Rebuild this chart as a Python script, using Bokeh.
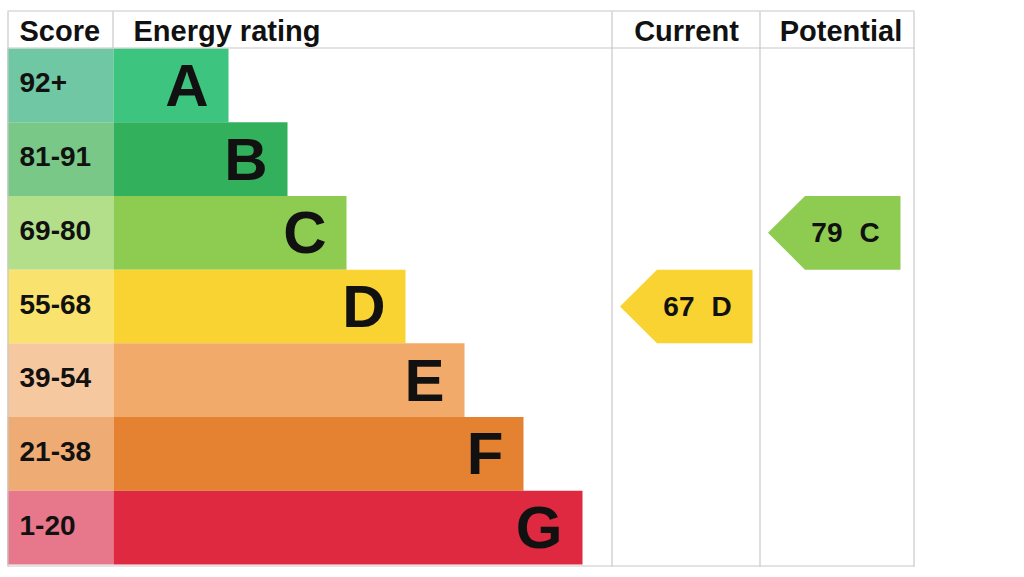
from bokeh.plotting import figure
from bokeh.models import Range1d, ColumnDataSource
from bokeh.core.properties import value
from bokeh.embed import file_html
from bokeh.resources import INLINE

# ---- data ----
bands = ["A", "B", "C", "D", "E", "F", "G"]
score_ranges = ["92+", "81-91", "69-80", "55-68", "39-54", "21-38", "1-20"]
band_min = [92, 81, 69, 55, 39, 21, 1]
bar_colors = ["#3dc47f", "#33b05c", "#8ecc51", "#f8d331", "#f2aa6b", "#e58232", "#de2940"]
score_colors = ["#70c7a3", "#79c887", "#b3df8b", "#f9e36e", "#f6c8a0", "#eeab73", "#e7778b"]
headers = ["Score", "Energy rating", "Current", "Potential"]
current_score = 67
potential_score = 79

FONT = value("Liberation Sans")
GRID = "#c8c8c8"

# ---- layout ----
W, H = 1008, 569
p = figure(width=W, height=H, output_backend="svg", toolbar_location=None,
           x_range=Range1d(0, W), y_range=Range1d(H, 0),
           x_axis_type=None, y_axis_type=None, min_border=0)
p.outline_line_color = None
p.grid.visible = False
p.background_fill_color = "white"
p.border_fill_color = "white"

left, right = 7, 914
top, head_bot = 11, 48
row_h = (564 - 48) / 7
col_score_end = 113
col_cur = 612
col_pot = 760
bar_step = 59
bar_first_end = 228

n = len(bands)
row_top = [head_bot + i * row_h for i in range(n)]
row_bot = [t + row_h for t in row_top]
row_mid = [(a + b) / 2 for a, b in zip(row_top, row_bot)]
bar_end = [bar_first_end + bar_step * i for i in range(n)]

# score cells
p.quad(source=ColumnDataSource(dict(l=[left] * n, r=[col_score_end] * n, t=row_top, b=row_bot,
                                    c=score_colors)),
       left="l", right="r", top="t", bottom="b", fill_color="c", line_color=None)
# bars
p.quad(source=ColumnDataSource(dict(l=[col_score_end] * n, r=bar_end, t=row_top, b=row_bot,
                                    c=bar_colors)),
       left="l", right="r", top="t", bottom="b", fill_color="c", line_color=None)

# grid lines
seg = dict(
    x0=[left, left, left, left + 0.5, 112.5, col_cur - 0.5, col_pot - 0.5, right - 0.5],
    x1=[right, right, right, left + 0.5, 112.5, col_cur - 0.5, col_pot - 0.5, right - 0.5],
    y0=[top - 0.5, head_bot - 0.5, 565.5, top, top, top, top, top],
    y1=[top - 0.5, head_bot - 0.5, 565.5, 566, head_bot, 566, 566, 566],
)
p.segment(x0="x0", y0="y0", x1="x1", y1="y1", source=ColumnDataSource(seg),
          line_color=GRID, line_width=1.2)

# header text
p.text(x=[19, 133], y=[30.5, 30.5], text=headers[:2], text_font=FONT, text_font_style="bold",
       text_font_size="29px", text_align="left", text_baseline="middle", text_color="#111111")
p.text(x=[(col_cur + col_pot) / 2, 840.5], y=[30.5, 30.5], text=headers[2:], text_font=FONT,
       text_font_style="bold", text_font_size="29px", text_align="center",
       text_baseline="middle", text_color="#111111")

# score labels
p.text(x=[19] * n, y=[m - 2.5 for m in row_mid], text=score_ranges, text_font=FONT,
       text_font_style="bold", text_font_size="28px", text_align="left",
       text_baseline="middle", text_color="#111111")
# band letters
p.text(x=[e - 20 for e in bar_end], y=row_mid, text=bands, text_font=FONT,
       text_font_style="bold", text_font_size="60px", text_align="right",
       text_baseline="middle", text_color="#111111")


def band_index(score):
    for i, m in enumerate(band_min):
        if score >= m:
            return i
    return n - 1


def arrow(score, col_left):
    i = band_index(score)
    t, b = row_top[i], row_bot[i]
    tip = col_left + 7.5
    body_l = tip + 37
    body_r = tip + 132.5
    xs = [tip, body_l, body_r, body_r, body_l]
    ys = [(t + b) / 2, t, t, b, b]
    p.patch(xs, ys, fill_color=bar_colors[i], line_color=None)
    p.text(x=[body_r - 58], y=[(t + b) / 2], text=[str(score)], text_font=FONT,
           text_font_style="bold", text_font_size="28px", text_align="right",
           text_baseline="middle", text_color="#111111")
    p.text(x=[body_r - 41], y=[(t + b) / 2], text=[bands[i]], text_font=FONT,
           text_font_style="bold", text_font_size="28px", text_align="left",
           text_baseline="middle", text_color="#111111")


arrow(current_score, col_cur)
arrow(potential_score, col_pot)

open("out.html", "w").write(file_html(p, INLINE))
